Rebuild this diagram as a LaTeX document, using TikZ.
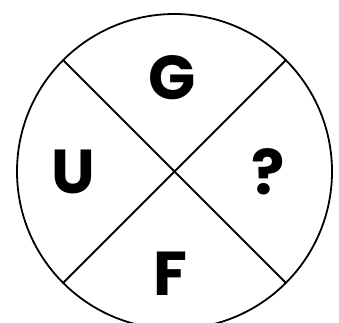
\documentclass[tikz,border=0pt]{standalone}
\usepackage{fontspec}
\setmainfont{Poppins}
\tikzset{
  letter/.style={font=\fontsize{62}{66}\selectfont\bfseries, inner sep=0pt, anchor=center},
  ring/.style={circle, draw=black, line width=1.8pt, minimum size=315pt, inner sep=0pt, outer sep=0pt},
  divider/.style={line width=1.8pt, draw=black},
}
\begin{document}
\begin{tikzpicture}[x=1pt,y=-1pt]
\useasboundingbox (0,0) rectangle (339,322);
\clip (0,0) rectangle (339,322);
\node[ring] (R) at (174.5,171.5) {};
\draw[divider] (R.135) -- (R.-45);
\draw[divider] (R.45) -- (R.-135);
\node[letter] (G) at (172,78) {G};
\node[letter] (U) at (73,172) {U};
\node[letter] (Q) at (268,172) {?};
\node[letter] (F) at (170,274) {F};
\end{tikzpicture}
\end{document}
